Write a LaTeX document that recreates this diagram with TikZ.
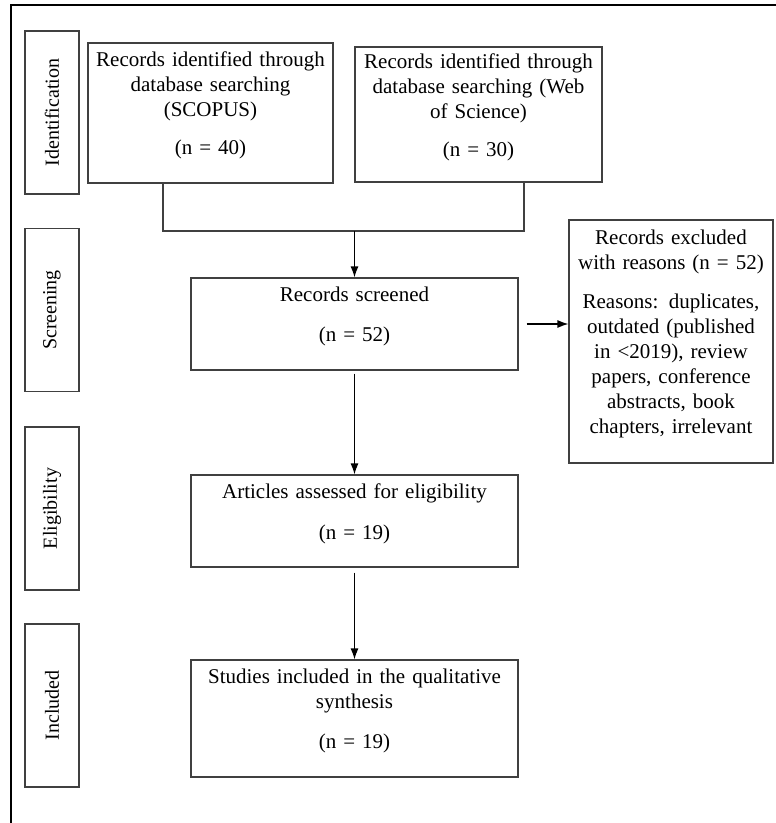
\documentclass[tikz,border=0pt]{standalone}
\usepackage{fontspec}
\setmainfont{Liberation Serif}
\usepackage{tikz}
\usetikzlibrary{arrows.meta, positioning}

\begin{document}
\begin{tikzpicture}[x=1pt, y=-1pt, >={Latex[length=11pt,width=8pt]},
    hop/.style={draw=black!75, line width=1.2pt, align=center, inner sep=4pt,
        execute at end node={\\[-6pt]\mbox{}}, font=\fontsize{21}{25}\selectfont},
    phase/.style={hop, rotate=90, minimum width=163pt, minimum height=54pt,
        font=\fontsize{20}{24}\selectfont}]
    \useasboundingbox (0,0) rectangle (776,823);
    % Khung ngoai
    \draw[line width=2.5pt] (11,823) -- (11,5) -- (776,5);

    % Cac giai doan
    \node[phase] (iden) at (52,112.5) {Identification};
    \node[phase] (scre) at (52,310) {Screening};
    \node[phase] (elig) at (52,508.5) {Eligibility};
    \node[phase] (incl) at (52,705.5) {Included};

    % Cac hop
    \node[hop, text width=237pt, minimum height=140pt] (scopus) at (210.5,113)
        {Records identified through\\ database searching\\ (SCOPUS)\\[13pt] (n = 40)};
    \node[hop, text width=239pt, minimum height=135pt] (wos) at (478.5,114.5)
        {Records identified through\\ database searching (Web\\ of Science)\\[13pt] (n = 30)};
    \node[hop, text width=319pt, minimum height=92pt] (screened) at (354.5,324)
        {Records screened\\[15pt] (n = 52)};
    \node[hop, text width=196pt, minimum height=243pt] (excluded) at (671,341.5)
        {Records excluded\\ with reasons (n = 52)\\[14pt] Reasons: duplicates,\\
         outdated (published\\ in <2019), review\\ papers, conference\\
         abstracts, book\\ chapters, irrelevant};
    \node[hop, text width=319pt, minimum height=92pt] (articles) at (354.5,521)
        {Articles assessed for eligibility\\[16pt] (n = 19)};
    \node[hop, text width=319pt, minimum height=117pt] (studies) at (354.5,718.5)
        {Studies included in the qualitative\\ synthesis\\[15pt] (n = 19)};

    % Cac mui ten
    \coordinate (join) at (354.5,231);
    \draw[draw=black!75, line width=1.2pt] ([xshift=-47.5pt]scopus.south) |- (join)
        -| ([xshift=45.5pt]wos.south);
    \draw[->, line width=1.2pt] (join) -- (screened);
    \draw[->, line width=1.2pt, shorten <=8pt] (screened.east) -- (screened.east -| excluded.west);
    \draw[->, line width=1.2pt, shorten <=3pt] (screened) -- (articles);
    \draw[->, line width=1.2pt, shorten <=5pt] (articles) -- (studies);
\end{tikzpicture}
\end{document}
